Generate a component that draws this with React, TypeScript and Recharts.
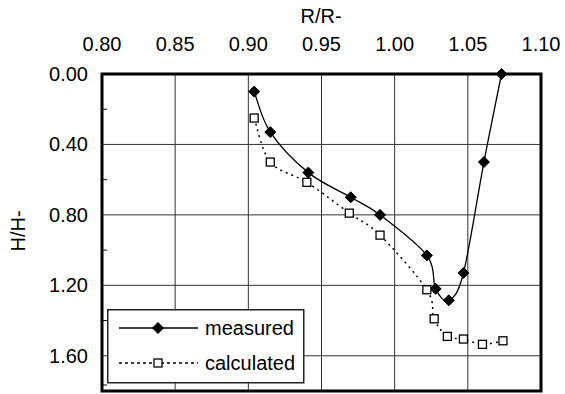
import React from "react";
import {
  CartesianGrid,
  Line,
  LineChart,
  ReferenceArea,
  XAxis,
  YAxis,
} from "recharts";

const xTicks = [0.8, 0.85, 0.9, 0.95, 1.0, 1.05, 1.1];
const yTicks = [0, 0.2, 0.4, 0.6, 0.8, 1.0, 1.2, 1.4, 1.6, 1.8];
const yMajor = [0, 0.4, 0.8, 1.2, 1.6];

const measuredR = [0.904, 0.915, 0.941, 0.97, 0.99, 1.022, 1.028, 1.037, 1.047, 1.061, 1.073];
const measuredH = [0.1, 0.33, 0.56, 0.7, 0.8, 1.03, 1.22, 1.285, 1.13, 0.5, 0.0];

const calculatedR = [0.904, 0.915, 0.94, 0.969, 0.99, 1.022, 1.027, 1.036, 1.047, 1.06, 1.074];
const calculatedH = [0.25, 0.5, 0.615, 0.79, 0.915, 1.225, 1.39, 1.49, 1.505, 1.535, 1.515];

const measured = measuredR.map((r, i) => ({ r, h: measuredH[i] }));
const calculated = calculatedR.map((r, i) => ({ r, h: calculatedH[i] }));

const FONT = "'Liberation Sans', Arial, sans-serif";
const W = 565;
const H = 394;
const MARGIN = { top: 44, right: 24, bottom: 3, left: 42 };
const X_AXIS_H = 30;
const Y_AXIS_W = 60;

// excel-like smoothing (catmull-rom as bezier)
function smoothCurve(context: any) {
  let pts: number[][] = [];
  return {
    areaStart() {},
    areaEnd() {},
    lineStart() {
      pts = [];
    },
    lineEnd() {
      const n = pts.length;
      if (!n) return;
      context.moveTo(pts[0][0], pts[0][1]);
      for (let i = 0; i < n - 1; i++) {
        const p0 = pts[Math.max(i - 1, 0)];
        const p1 = pts[i];
        const p2 = pts[i + 1];
        const p3 = pts[Math.min(i + 2, n - 1)];
        context.bezierCurveTo(
          p1[0] + (p2[0] - p0[0]) / 6,
          p1[1] + (p2[1] - p0[1]) / 6,
          p2[0] - (p3[0] - p1[0]) / 6,
          p2[1] - (p3[1] - p1[1]) / 6,
          p2[0],
          p2[1]
        );
      }
    },
    point(x: number, y: number) {
      pts.push([+x, +y]);
    },
  };
}

function Diamond({ cx, cy, size = 5.5 }: any) {
  if (cx == null || cy == null) return null;
  return (
    <path
      d={`M${cx},${cy - size}L${cx + size},${cy}L${cx},${cy + size}L${cx - size},${cy}Z`}
      fill="#000"
      stroke="#000"
    />
  );
}

function Square({ cx, cy, size = 4 }: any) {
  if (cx == null || cy == null) return null;
  return (
    <rect
      x={cx - size}
      y={cy - size}
      width={size * 2}
      height={size * 2}
      fill="#fff"
      stroke="#000"
      strokeWidth={1.3}
    />
  );
}

function XTick({ x, y, payload }: any) {
  return (
    <text x={x} y={y - 23} textAnchor="middle" fontSize={20} fontFamily={FONT} fill="#000">
      {payload.value.toFixed(2)}
    </text>
  );
}

function YTick({ x, y, payload }: any) {
  const v = payload.value;
  const major = yMajor.some((m) => Math.abs(m - v) < 1e-6);
  if (major) {
    return (
      <text x={x - 14} y={y + 7} textAnchor="end" fontSize={20} fontFamily={FONT} fill="#000">
        {v.toFixed(2)}
      </text>
    );
  }
  return <line x1={x} x2={x + 5} y1={y} y2={y} stroke="#000" strokeWidth={1} />;
}

function LegendBox() {
  const row = (label: string, dashed: boolean, y: number) => (
    <g>
      <line
        x1={12}
        x2={91}
        y1={y}
        y2={y}
        stroke="#000"
        strokeWidth={dashed ? 1.5 : 1.3}
        strokeDasharray={dashed ? "3 3" : undefined}
      />
      {dashed ? <Square cx={51} cy={y} /> : <Diamond cx={51} cy={y} />}
      <text x={98} y={y + 7} fontSize={20} fontFamily={FONT} fill="#000">
        {label}
      </text>
    </g>
  );
  return (
    <svg width={198} height={75} style={{ display: "block" }}>
      <rect x={0.75} y={0.75} width={196} height={73} fill="#fff" stroke="#222" strokeWidth={1.5} />
      {row("measured", false, 19)}
      {row("calculated", true, 54)}
    </svg>
  );
}

export default function App() {
  return (
    <div style={{ position: "absolute", left: 0, top: 0, width: W, height: H, background: "#fff" }}>
      <LineChart width={W} height={H} margin={MARGIN}>
        <CartesianGrid
          stroke="#333"
          strokeWidth={1}
          horizontalValues={yMajor}
          verticalValues={xTicks}
        />
        <XAxis
          xAxisId={0}
          dataKey="r"
          type="number"
          orientation="top"
          domain={[0.8, 1.1]}
          ticks={xTicks}
          height={X_AXIS_H}
          axisLine={false}
          tickLine={false}
          tickSize={0}
          tickMargin={0}
          tick={<XTick />}
          allowDuplicatedCategory={false}
        />
        <YAxis
          yAxisId={0}
          dataKey="h"
          type="number"
          reversed
          domain={[0, 1.8]}
          ticks={yTicks}
          width={Y_AXIS_W}
          axisLine={false}
          tickLine={false}
          tickSize={0}
          tickMargin={0}
          tick={<YTick />}
        />
        <ReferenceArea
          x1={0.8}
          x2={1.1}
          y1={0}
          y2={1.8}
          fill="none"
          stroke="#000"
          strokeWidth={3}
          ifOverflow="visible"
        />
        <Line
          data={measured}
          dataKey="h"
          name="measured"
          type={smoothCurve as any}
          stroke="#000"
          strokeWidth={1.3}
          dot={(p: any) => <Diamond key={`m${p.index}`} cx={p.cx} cy={p.cy} />}
          isAnimationActive={false}
        />
        <Line
          data={calculated}
          dataKey="h"
          name="calculated"
          type={smoothCurve as any}
          stroke="#000"
          strokeWidth={1.5}
          strokeDasharray="2 4"
          dot={(p: any) => <Square key={`c${p.index}`} cx={p.cx} cy={p.cy} />}
          isAnimationActive={false}
        />
      </LineChart>
      <div style={{ position: "absolute", left: 107, top: 309 }}>
        <LegendBox />
      </div>
      <div
        style={{
          position: "absolute",
          left: 0,
          width: 642,
          top: 4,
          textAlign: "center",
          fontFamily: FONT,
          fontSize: 20,
          lineHeight: "24px",
        }}
      >
        R/R-
      </div>
      <div
        style={{
          position: "absolute",
          left: 18,
          top: 231,
          transform: "translate(-50%, -50%) rotate(-90deg)",
          fontFamily: FONT,
          fontSize: 20,
          lineHeight: "24px",
          whiteSpace: "nowrap",
        }}
      >
        H/H-
      </div>
    </div>
  );
}
